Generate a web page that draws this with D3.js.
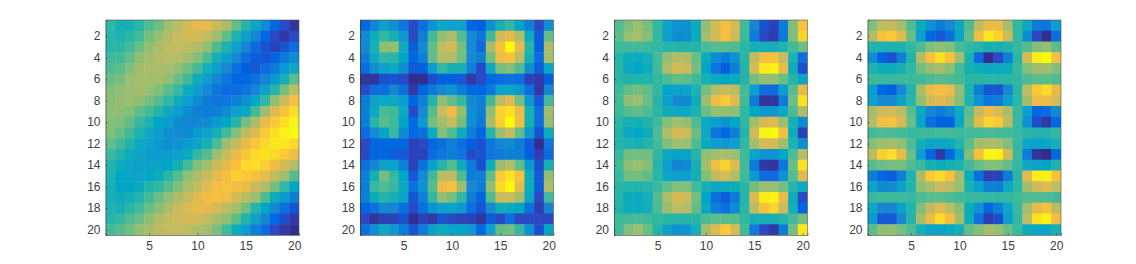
<!DOCTYPE html>
<html>
<head>
<meta charset="utf-8">
<script src="https://cdn.jsdelivr.net/npm/d3@7"></script>
<style>
body { margin: 0; background: #fff; }
text { font-family: "Liberation Sans", Arial, sans-serif; }
</style>
</head>
<body>
<svg id="chart" width="1136" height="264"></svg>
<script>
// values are in percent of the colour range
var panel1 = [
[47,41,42,46,52,57,66,71,78,82,82,76,68,55,45,36,26,14,7,2],
[46,43,46,50,58,64,70,75,78,77,73,65,55,43,33,24,14,6,3,6],
[46,46,50,56,63,68,72,74,73,70,62,52,43,33,24,15,9,5,9,15],
[49,50,55,62,66,69,71,70,66,60,51,42,33,25,16,11,9,13,19,26],
[52,54,60,66,68,68,67,63,57,50,41,33,25,17,12,10,15,20,29,38],
[56,58,64,67,67,66,62,56,50,40,32,24,18,14,14,17,23,30,42,54],
[60,62,65,66,64,60,54,48,40,32,25,19,15,15,18,24,33,45,58,72],
[61,63,64,62,58,53,47,40,32,26,20,18,19,22,27,37,47,63,76,87],
[62,62,60,55,50,45,38,32,26,22,20,22,26,33,38,50,65,80,88,94],
[61,60,55,48,43,37,31,26,24,24,26,30,37,45,58,68,82,90,95,99],
[60,55,50,43,38,32,27,25,26,30,34,42,50,60,72,80,90,95,98,100],
[55,50,44,38,34,30,27,28,31,36,42,51,65,74,83,89,93,96,96,93],
[49,44,40,36,32,31,31,34,39,47,53,65,75,83,89,93,95,93,90,85],
[45,40,36,34,34,35,37,42,50,60,67,76,82,88,93,94,91,85,78,70],
[43,37,36,36,37,40,46,53,62,69,75,82,87,91,90,88,82,73,65,53],
[42,37,37,39,44,47,53,60,68,74,81,86,88,86,84,75,69,58,47,37],
[42,40,41,44,50,56,62,69,75,80,85,86,85,78,72,64,52,40,30,22],
[44,42,46,50,56,61,68,75,79,82,82,78,72,67,58,45,37,25,16,9],
[45,47,52,56,62,69,74,76,78,77,73,67,62,54,44,35,24,14,8,3],
[50,53,57,63,67,72,74,74,72,69,66,59,50,40,32,22,15,6,3,1]
];
var panel2 = [
[14,23,33,27,18,7,16,28,38,34,34,13,12,27,42,47,37,22,6,27],
[25,40,47,42,30,6,22,50,63,68,53,25,18,50,78,82,70,40,11,55],
[24,42,62,63,40,11,25,55,73,77,58,25,15,67,88,100,82,45,12,68],
[20,38,47,46,37,13,22,55,70,70,57,25,22,58,84,88,72,42,15,67],
[15,27,34,38,27,10,12,32,47,42,42,22,7,38,58,60,52,27,11,36],
[2,2,8,9,7,1,1,8,12,12,10,3,6,14,15,17,16,5,3,12],
[7,16,16,24,17,3,13,20,25,28,20,14,13,19,36,36,30,16,3,24],
[20,33,38,38,31,13,22,45,62,55,48,25,22,50,73,80,58,30,10,50],
[22,38,51,50,38,7,25,53,76,84,63,27,22,62,92,95,84,42,16,66],
[20,45,54,49,37,14,30,58,67,75,58,27,19,67,91,100,85,42,16,65],
[15,25,37,48,26,14,16,40,60,52,40,22,13,45,65,75,55,30,9,40],
[6,13,14,14,14,5,6,14,16,22,16,12,8,19,24,26,21,11,1,18],
[6,13,13,11,10,5,5,15,19,22,18,7,9,18,21,22,22,12,4,15],
[17,24,35,35,22,5,17,33,45,53,40,20,8,40,65,70,55,30,8,42],
[22,42,58,48,37,10,25,50,72,72,52,21,22,55,90,95,88,40,10,63],
[22,48,52,48,38,17,28,53,84,87,65,25,20,62,93,100,82,40,11,69],
[22,40,45,42,35,9,22,47,63,58,47,22,13,52,76,76,66,35,6,50],
[13,17,24,24,16,7,16,28,33,35,30,16,9,25,40,38,37,17,4,23],
[6,2,5,5,9,1,5,3,9,6,5,5,2,11,6,16,6,6,6,6],
[17,27,38,30,20,9,20,33,40,36,37,30,14,33,55,57,47,27,8,37]
];
var panel3 = [
[53,60,64,58,47,35,28,28,40,63,78,86,78,50,24,9,5,20,60,88],
[54,64,67,60,47,33,26,27,40,67,78,87,77,49,20,6,4,20,60,92],
[49,50,50,49,47,45,45,44,45,51,53,53,52,46,42,41,41,44,50,56],
[45,40,39,41,50,63,70,69,56,39,26,20,28,46,72,86,88,75,43,16],
[45,38,37,40,50,68,78,75,58,37,18,12,22,45,78,97,98,82,40,8],
[46,44,44,44,47,52,55,54,49,42,38,37,39,45,58,63,63,56,45,36],
[49,55,58,55,47,37,34,35,43,58,70,76,72,50,32,16,15,32,53,82],
[50,62,64,56,45,33,25,26,40,65,84,90,80,50,20,2,2,20,57,95],
[49,53,55,52,46,40,38,38,43,56,63,63,62,47,37,30,30,38,52,69],
[46,42,42,44,50,60,66,63,52,38,33,28,37,47,66,78,80,65,42,26],
[44,38,37,40,52,69,78,76,56,38,18,14,22,45,77,98,100,86,40,5],
[45,43,42,44,50,60,66,64,52,38,32,30,33,47,66,78,78,66,43,27],
[48,57,58,57,47,38,35,36,45,62,66,68,64,49,36,29,28,37,52,70],
[50,62,65,60,45,32,23,26,42,66,85,92,80,50,20,3,2,18,56,95],
[48,57,58,55,46,36,32,33,42,60,74,78,70,49,30,15,15,28,53,80],
[46,44,44,45,48,55,60,60,50,42,38,38,40,46,58,64,64,58,45,38],
[45,39,38,41,53,68,78,76,57,37,16,11,20,45,80,97,98,82,40,7],
[44,40,39,41,52,65,72,70,55,38,22,16,26,46,72,88,92,76,41,13],
[49,50,51,49,47,46,45,45,46,51,54,54,53,47,42,41,41,44,50,58],
[50,60,64,56,45,35,28,29,41,66,80,90,78,50,20,6,3,20,58,96]
];
var panel4 = [
[60,73,75,66,52,40,28,20,25,38,52,72,83,83,67,47,38,20,18,32],
[70,88,90,80,56,33,14,10,16,35,55,85,96,92,76,47,26,6,1,16],
[44,43,43,43,47,52,60,62,60,51,47,45,42,42,44,48,53,60,63,54],
[27,12,8,22,44,70,87,95,88,67,43,15,1,6,22,46,78,97,100,86],
[43,40,40,42,47,57,63,67,62,50,42,40,38,38,40,48,60,66,66,60],
[49,48,48,49,49,50,52,53,52,50,46,46,46,46,46,47,52,54,54,52],
[31,14,12,25,44,67,84,88,84,62,43,22,9,9,24,46,72,90,94,83],
[35,25,25,35,45,62,77,80,76,61,43,28,18,20,33,46,66,84,84,78],
[68,76,78,71,54,38,24,20,26,38,54,74,84,78,68,48,32,14,15,26],
[70,86,88,78,56,36,16,12,12,36,56,82,92,90,72,48,28,8,3,14],
[50,52,51,50,48,49,49,50,50,49,50,50,51,50,50,48,46,44,44,47],
[60,64,66,62,52,42,36,36,39,44,54,66,68,68,60,48,36,36,36,42],
[72,91,94,83,56,32,14,3,14,33,60,88,99,98,78,48,20,2,0,14],
[53,56,58,58,52,48,42,40,42,43,50,56,60,60,55,47,38,34,37,43],
[22,14,11,22,43,68,90,94,88,66,40,16,4,5,20,46,80,97,98,88],
[36,26,25,35,44,62,68,76,72,64,42,33,22,22,38,46,66,76,80,73],
[48,49,49,49,48,52,54,54,52,50,48,48,47,47,47,50,52,52,52,50],
[38,24,24,34,44,60,74,80,72,61,40,28,14,22,36,48,66,82,87,72],
[30,10,10,25,44,67,84,94,87,66,40,17,4,8,32,47,72,95,98,85],
[54,62,63,58,52,42,36,36,38,42,55,60,67,63,56,48,40,36,36,42]
];
var panels = [panel1, panel2, panel3, panel4];
var xTickValues = [5, 10, 15, 20];
var yTickValues = [2, 4, 6, 8, 10, 12, 14, 16, 18, 20];
var parula = ["#352a87", "#2a49c6", "#0363e1", "#0f77db", "#1389d2", "#099dd0", "#06a7c4", "#1fb3ae",
    "#42ba99", "#6abe84", "#92bf73", "#aebd69", "#c8bb5e", "#e4ba4e", "#f8bf3e", "#fbdb26", "#f9fb0e"];

var lefts = [105.5, 360, 614, 867.5];
var plotW = 193.5, plotTop = 20, plotH = 215;

var color = d3.scaleSequential(d3.piecewise(d3.interpolateRgb, parula)).domain([0, 100]);
var svg = d3.select("#chart");

// the reference image is a little soft
svg.append("defs").append("filter").attr("id", "soft")
    .attr("x", "-2%").attr("y", "-2%").attr("width", "104%").attr("height", "104%")
    .append("feGaussianBlur").attr("stdDeviation", 0.6);

panels.forEach(function (rows, p) {
    var g = svg.append("g").attr("transform", "translate(" + lefts[p] + "," + plotTop + ")");
    var x = d3.scaleLinear().domain([0.5, 20.5]).range([0, plotW]);
    var y = d3.scaleLinear().domain([0.5, 20.5]).range([0, plotH]);

    svg.select("defs").append("clipPath").attr("id", "clip" + p)
        .append("rect").attr("width", plotW).attr("height", plotH);
    var cells = g.append("g").attr("clip-path", "url(#clip" + p + ")")
        .append("g").attr("filter", "url(#soft)");

    rows.forEach(function (row, r) {
        cells.selectAll(".r" + r).data(row).enter().append("rect")
            .attr("class", "r" + r)
            .attr("x", function (d, c) { return x(c + 0.5); })
            .attr("y", y(r + 0.5))
            .attr("width", x(1.5) - x(0.5) + 0.5)
            .attr("height", y(1.5) - y(0.5) + 0.5)
            .attr("fill", function (d) { return color(d); });
    });

    var xAxis = g.append("g").attr("transform", "translate(0," + plotH + ")")
        .call(d3.axisBottom(x).tickValues(xTickValues).tickSize(-2).tickPadding(6));
    var yAxis = g.append("g")
        .call(d3.axisLeft(y).tickValues(yTickValues).tickSize(-2).tickPadding(5));
    [xAxis, yAxis].forEach(function (a) {
        a.selectAll("text").attr("font-size", 12).attr("fill", "#404040")
            .style("font-family", '"Liberation Sans", Arial, sans-serif');
        a.selectAll("line").attr("stroke", "#333").attr("stroke-width", 0.5);
        a.select(".domain").attr("stroke", "#333").attr("stroke-width", 0.6);
    });
    // top and right edge of the box
    g.append("path").attr("d", "M0,0H" + plotW + "V" + plotH)
        .attr("fill", "none").attr("stroke", "#555").attr("stroke-width", 0.6);
});
</script>
</body>
</html>
